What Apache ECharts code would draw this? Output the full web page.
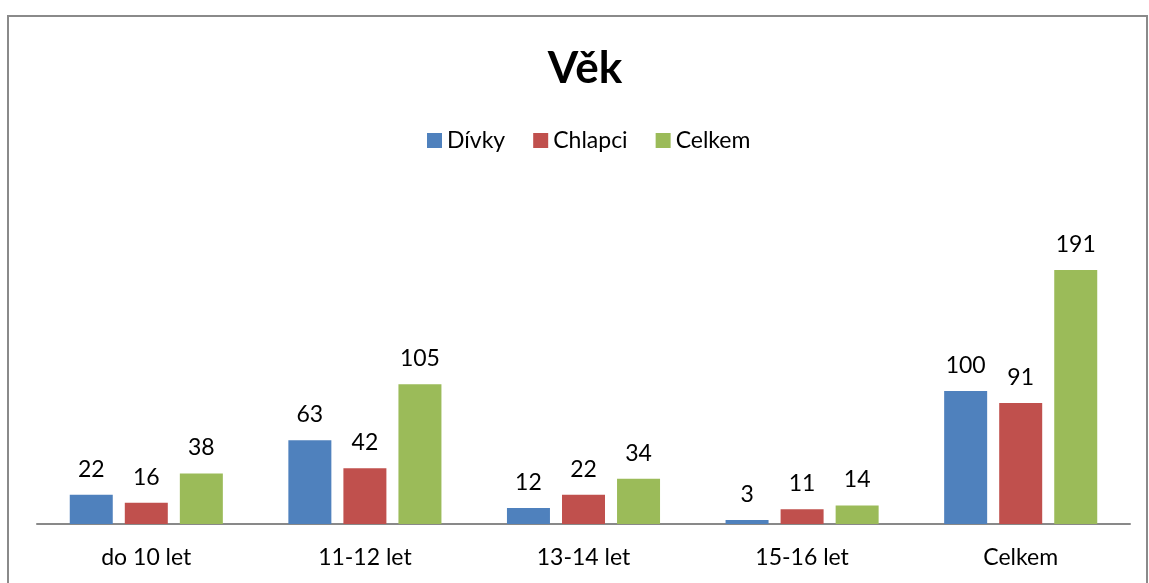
<!DOCTYPE html>
<html>
<head>
<meta charset="utf-8">
<script src="https://cdn.jsdelivr.net/npm/echarts@6/dist/echarts.min.js"></script>
<style>
html, body { margin: 0; padding: 0; background: #fff; }
#main { width: 1149px; height: 583px; }
</style>
</head>
<body>
<div id="main"></div>
<script>
var chart = echarts.init(document.getElementById('main'));

var categories = ['do 10 let', '11-12 let', '13-14 let', '15-16 let', 'Celkem'];
var divky = [22, 63, 12, 3, 100];
var chlapci = [16, 42, 22, 11, 91];
var celkem = [38, 105, 34, 14, 191];

var font = 'Lato, "Open Sans", sans-serif';

function bar(name, data, color) {
    return {
        name: name,
        type: 'bar',
        data: data,
        barWidth: 43,
        barGap: '28%',
        itemStyle: { color: color },
        label: {
            show: true,
            position: 'top',
            distance: 14,
            color: '#000',
            fontSize: 23,
            fontFamily: font
        }
    };
}

var option = {
    animation: false,
    textStyle: { fontFamily: font },
    title: {
        text: 'Věk',
        left: 580,
        textAlign: 'center',
        top: 42,
        textStyle: {
            fontSize: 44,
            fontWeight: 'bold',
            color: '#000',
            fontFamily: font
        }
    },
    legend: {
        top: 124,
        left: 422,
        itemWidth: 15,
        itemHeight: 15,
        itemGap: 28,
        icon: 'rect',
        textStyle: { fontSize: 23, color: '#000', fontFamily: font },
        data: ['Dívky', 'Chlapci', 'Celkem']
    },
    grid: {
        left: 37,
        right: 19,
        top: 191.5,
        bottom: 59
    },
    xAxis: {
        type: 'category',
        data: categories,
        axisLine: { lineStyle: { color: '#898989', width: 2 } },
        axisTick: { show: false },
        axisLabel: {
            color: '#000',
            fontSize: 23,
            margin: 22,
            fontFamily: font
        }
    },
    yAxis: {
        type: 'value',
        min: 0,
        max: 250,
        show: false
    },
    graphic: [{
        type: 'rect',
        shape: { x: 8, y: 16, width: 1139, height: 620 },
        style: { fill: 'none', stroke: '#8a8a8a', lineWidth: 2 },
        silent: true
    }],
    series: [
        bar('Dívky', divky, '#4f81bd'),
        bar('Chlapci', chlapci, '#c0504d'),
        bar('Celkem', celkem, '#9bbb59')
    ]
};

chart.setOption(option);
</script>
</body>
</html>
